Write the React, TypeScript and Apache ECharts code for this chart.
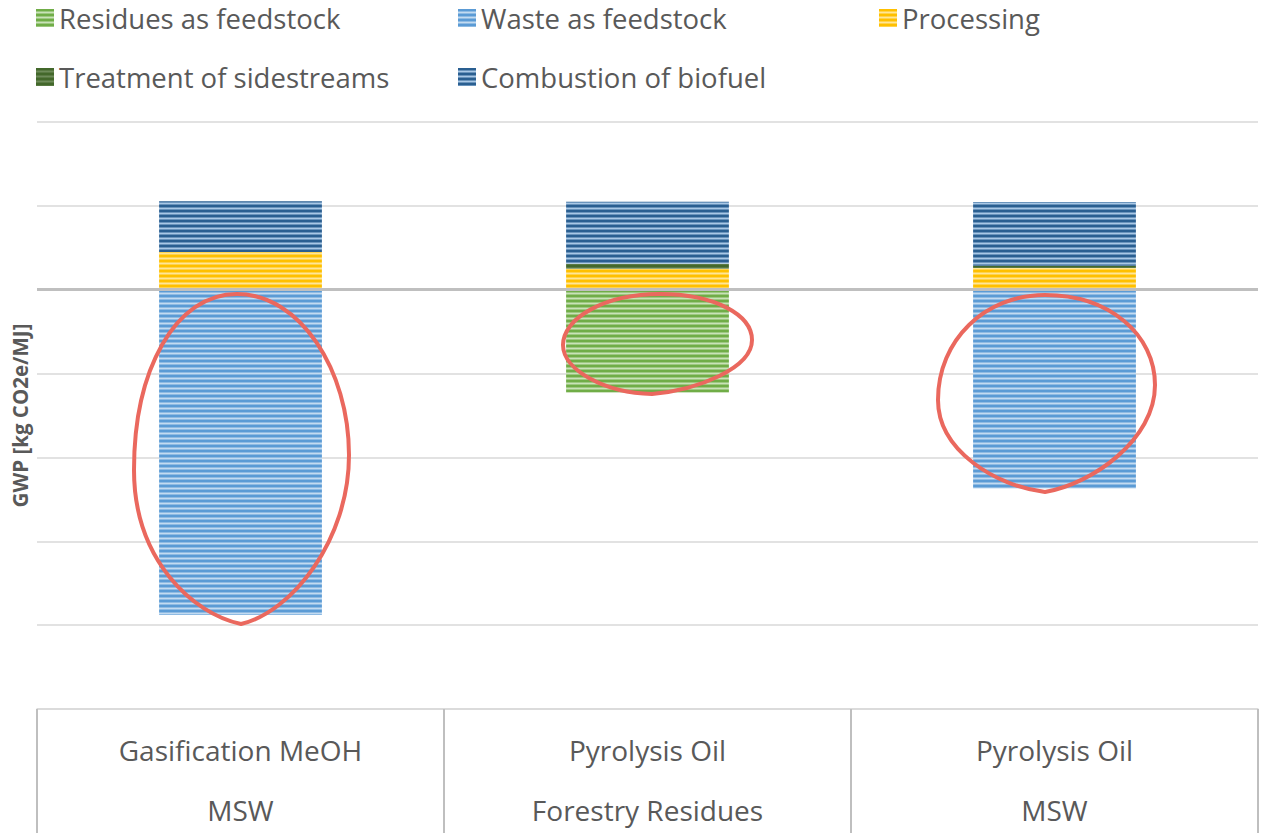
import React, { useEffect, useRef } from "react";
import * as echarts from "echarts";

const categories = ["Gasification MeOH\nMSW", "Pyrolysis Oil\nForestry Residues", "Pyrolysis Oil\nMSW"];
const seriesNames = [
  "Residues as feedstock",
  "Waste as feedstock",
  "Processing",
  "Treatment of sidestreams",
  "Combustion of biofuel",
];
const residues = ["-", -0.0245, "-"];
const waste = [-0.0776, "-", -0.0474];
const processing = [0.009, 0.005, 0.0052];
const treatment = [0, 0.0012, 0.0005];
const combustion = [0.0121, 0.0148, 0.0152];

const darkColors = ["#70AD47", "#5B9BD5", "#FFC000", "#43682B", "#2A5F91"];
const lightColors = ["#C9E2B8", "#C3DBF1", "#FFE699", "#6E8C5A", "#A9C8E6"];

function mix(a: string, b: string): string {
  const pa = [1, 3, 5].map((i) => parseInt(a.slice(i, i + 2), 16));
  const pb = [1, 3, 5].map((i) => parseInt(b.slice(i, i + 2), 16));
  return "rgb(" + pa.map((v, i) => Math.round((v + pb[i]) / 2)).join(",") + ")";
}

function stripe(dark: string, light: string) {
  const c = document.createElement("canvas");
  c.width = 4;
  c.height = 5;
  const ctx = c.getContext("2d")!;
  const rows = [dark, dark, mix(dark, light), light, mix(dark, light)];
  rows.forEach((col, i) => {
    ctx.fillStyle = col;
    ctx.fillRect(0, i, 4, 1);
  });
  return { image: c.toDataURL(), repeat: "repeat" } as any;
}

echarts.graphic.registerShape(
  "loop1",
  echarts.graphic.extendPath(
    "M 237 294 C 300 294 349 370 349 455 C 349 540 292 612 241 624 C 193 614 134 560 134 470 C 134 370 175 294 237 294 Z",
    {}
  )
);
echarts.graphic.registerShape(
  "loop2",
  echarts.graphic.extendPath(
    "M 660 294 C 715 294 752 315 752 340 C 752 368 698 390 652 394 C 605 393 563 370 563 345 C 563 318 605 294 660 294 Z",
    {}
  )
);
echarts.graphic.registerShape(
  "loop3",
  echarts.graphic.extendPath(
    "M 1045 295 C 1110 295 1155 335 1155 385 C 1155 440 1092 484 1045 492 C 995 486 938 450 938 400 C 938 340 985 295 1045 295 Z",
    {}
  )
);

const FONT = "'Open Sans', 'Noto Sans', sans-serif";

export default function App() {
  const ref = useRef<HTMLDivElement>(null);
  useEffect(() => {
    document.body.style.margin = "0";
    const chart = echarts.init(ref.current!, null, { renderer: "svg" });
    const values = [residues, waste, processing, treatment, combustion];
    const legendText = { fontSize: 27.5, color: "#595959", fontFamily: FONT, lineHeight: 30 };
    const legendBase = {
      orient: "vertical",
      top: 3,
      padding: 0,
      itemWidth: 18,
      itemHeight: 18,
      itemGap: 29,
      icon: "rect",
      textStyle: legendText,
      selectedMode: false,
    };
    chart.setOption({
      animation: false,
      backgroundColor: "#ffffff",
      legend: [
        { ...legendBase, left: 36, data: [seriesNames[0], seriesNames[3]] },
        { ...legendBase, left: 458, data: [seriesNames[1], seriesNames[4]] },
        { ...legendBase, left: 879, data: [seriesNames[2]] },
      ],
      grid: { left: 37, right: 3, top: 122, bottom: 124, containLabel: false, outerBoundsMode: "none" },
      xAxis: {
        type: "category",
        data: categories,
        axisLine: { onZero: false, lineStyle: { color: "#D9D9D9", width: 1.5 } },
        axisTick: { show: true, length: 124, interval: 0, lineStyle: { color: "#BFBFBF", width: 2 } },
        axisLabel: { interval: 0, margin: 11, fontSize: 28, color: "#595959", lineHeight: 60, fontFamily: FONT },
      },
      yAxis: {
        type: "value",
        min: -0.1,
        max: 0.04,
        interval: 0.02,
        name: "GWP [kg CO2e/MJ]",
        nameLocation: "middle",
        nameGap: 7,
        nameTextStyle: { fontSize: 20.5, fontWeight: "bold", color: "#595959", fontFamily: FONT },
        axisLabel: { show: false },
        axisLine: { show: false },
        axisTick: { show: false },
        splitLine: { lineStyle: { color: "#D9D9D9", width: 1.5 } },
      },
      series: seriesNames.map((name, i) => ({
        name,
        type: "bar",
        stack: "total",
        barWidth: "40%",
        data: values[i],
        itemStyle: { color: stripe(darkColors[i], lightColors[i]) },
        ...(i === 4
          ? {
              markLine: {
                silent: true,
                symbol: "none",
                z: 10,
                label: { show: false },
                lineStyle: { color: "#BFBFBF", width: 3, type: "solid" },
                data: [{ yAxis: 0 }],
              },
            }
          : {}),
      })),
      graphic: [
        { type: "loop1", x: 0, y: 0, z: 100, style: { fill: "none", stroke: "#EA685E", lineWidth: 4 } },
        { type: "loop2", x: 0, y: 0, z: 100, style: { fill: "none", stroke: "#EA685E", lineWidth: 4 } },
        { type: "loop3", x: 0, y: 0, z: 100, style: { fill: "none", stroke: "#EA685E", lineWidth: 4 } },
      ],
    });
    return () => chart.dispose();
  }, []);
  return <div ref={ref} style={{ width: 1261, height: 833 }} />;
}
